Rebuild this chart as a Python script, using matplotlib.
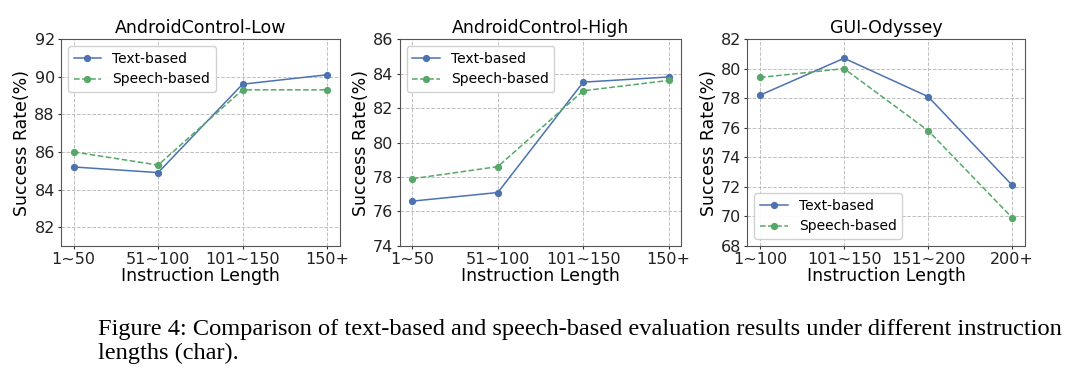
import matplotlib
matplotlib.use("Agg")
import matplotlib.pyplot as plt

# data
titles = ["AndroidControl-Low", "AndroidControl-High", "GUI-Odyssey"]
categories = [
    ["1~50", "51~100", "101~150", "150+"],
    ["1~50", "51~100", "101~150", "150+"],
    ["1~100", "101~150", "151~200", "200+"],
]
text_based = [
    [85.2, 84.9, 89.6, 90.1],
    [76.6, 77.1, 83.5, 83.8],
    [78.2, 80.7, 78.1, 72.1],
]
speech_based = [
    [86.0, 85.3, 89.3, 89.3],
    [77.9, 78.6, 83.0, 83.6],
    [79.4, 80.0, 75.8, 69.9],
]
ylims = [(81, 92), (74, 86), (68, 82)]
yticks = [range(82, 93, 2), range(74, 87, 2), range(68, 83, 2)]
legend_locs = ["upper left", "upper left", "lower left"]

BLUE = "#4C72B0"
GREEN = "#55A868"

fig = plt.figure(figsize=(10.8, 3.79), dpi=100)

# axes boxes in figure fractions [left, bottom, width, height]
boxes = [
    [0.0565, 0.351, 0.258, 0.546],
    [0.370, 0.351, 0.261, 0.546],
    [0.692, 0.351, 0.257, 0.546],
]

for i in range(3):
    ax = fig.add_axes(boxes[i])
    x = range(len(categories[i]))
    ax.plot(x, text_based[i], color=BLUE, linestyle="-", linewidth=1.1,
            marker="o", markersize=4.2, label="Text-based")
    ax.plot(x, speech_based[i], color=GREEN, linestyle="--", linewidth=1.1,
            marker="o", markersize=4.2, label="Speech-based")
    ax.set_xticks(list(x))
    ax.set_xticklabels(categories[i])
    ax.set_ylim(*ylims[i])
    ax.set_yticks(list(yticks[i]))
    ax.tick_params(axis="both", labelsize=11.5, pad=2, length=2.5,
                   colors="#333333", labelcolor="#222222")
    ax.set_xlim(-0.15, 3.15)
    ax.set_title(titles[i], fontsize=12.5, pad=4)
    ax.set_xlabel("Instruction Length", fontsize=12.5, labelpad=0)
    ax.set_ylabel("Success Rate(%)", fontsize=12.5, labelpad=2)
    ax.grid(True, linestyle="--", color="#b0b0b0", linewidth=0.7, alpha=0.8)
    for sp in ax.spines.values():
        sp.set_color("#555555")
    ax.legend(loc=legend_locs[i], fontsize=10, framealpha=0.9,
              handlelength=2.0)

caption = ("Figure 4: Comparison of text-based and speech-based evaluation results under different instruction\n"
           "lengths (char).")
fig.text(0.091, 0.159, caption, fontsize=17.6, family="Liberation Serif",
         va="top", ha="left", linespacing=1.2)

fig.savefig("out.png", dpi=100)
